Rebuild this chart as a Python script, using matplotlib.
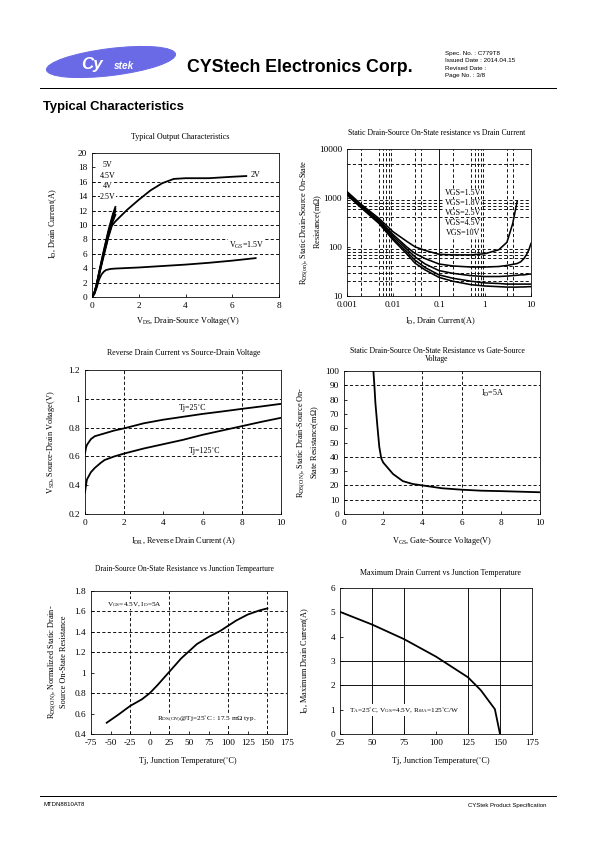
import matplotlib
matplotlib.use("Agg")
import matplotlib.pyplot as plt
from matplotlib.patches import Ellipse
from matplotlib.ticker import FuncFormatter

plt.rcParams['font.family'] = ['Liberation Serif', 'DejaVu Serif']
plt.rcParams['mathtext.fontset'] = 'custom'
plt.rcParams['mathtext.rm'] = 'Liberation Serif'
plt.rcParams['mathtext.it'] = 'Liberation Serif:italic'
plt.rcParams['mathtext.bf'] = 'Liberation Serif:bold'
plt.rcParams['axes.unicode_minus'] = False

W, H = 595, 842

# --- Typical output characteristics (VDS [V] -> ID [A])
vds_steep = [0, 0.1, 0.2, 0.3, 0.5, 0.7, 0.9, 1.0]
id_5v = [0, 0.6, 1.8, 3.4, 6.4, 9.2, 11.6, 12.5]
id_45v = [0, 0.6, 1.8, 3.3, 6.2, 9.0, 11.3, 12.2]
id_4v = [0, 0.6, 1.7, 3.2, 6.1, 8.8, 11.0, 11.9]
id_25v = [0, 0.5, 1.6, 3.1, 5.9, 8.5, 10.6, 11.4]
vds_2v = [0, 0.1, 0.2, 0.3, 0.5, 0.7, 0.85, 1.0, 1.5, 2.0, 2.5, 3.0, 3.5, 4.0, 5.0, 6.0, 6.6]
id_2v = [0, 0.5, 1.5, 3.0, 5.7, 8.3, 9.9, 10.5, 12.1, 13.5, 14.8, 15.8, 16.4, 16.5, 16.5, 16.7, 16.8]
vds_15v = [0, 0.1, 0.2, 0.3, 0.4, 0.5, 0.6, 0.8, 1.0, 2, 3, 4, 5, 6, 7]
id_15v = [0, 0.4, 1.3, 2.4, 3.1, 3.5, 3.75, 3.9, 3.95, 4.1, 4.3, 4.5, 4.75, 5.05, 5.4]

# --- RDS(on) [mOhm] vs ID [A]
id_a = [0.001, 0.002, 0.005, 0.01, 0.02, 0.03, 0.05, 0.1, 0.2, 0.5, 1, 2, 3, 4, 4.5, 5]
rds_15 = [1350, 750, 380, 205, 130, 101, 85, 71, 69, 69, 73, 88, 125, 300, 520, 850]
id_b = [0.001, 0.002, 0.005, 0.01, 0.02, 0.03, 0.05, 0.1, 0.2, 0.5, 1, 2, 3, 5, 6, 7, 8, 9, 10]
rds_18 = [1300, 720, 350, 180, 100, 74, 58, 45, 41, 39, 39, 40, 42, 46, 50, 58, 70, 88, 118]
rds_25 = [1250, 690, 330, 165, 90, 63, 45, 33, 29, 26, 25, 25, 25.5, 26.5, 27, 27, 27.5, 28, 28]
rds_45 = [1200, 660, 310, 150, 80, 54, 38, 27, 23, 20, 18.5, 18, 17.5, 17.5, 17.5, 17.5, 17.5, 17.5, 17.5]
rds_10 = [1150, 640, 300, 140, 72, 47, 34, 24, 20, 17, 16, 15.5, 15.2, 15.2, 15.3, 15.3, 15.4, 15.5, 15.5]
vgs_labels = ['VGS=1.5V', 'VGS=1.8V', 'VGS=2.5V', 'VGS=4.5V', 'VGS=10V']

# --- VSD [V] vs IDR [A]
idr_25 = [0, 0.05, 0.1, 0.2, 0.3, 0.5, 1, 1.5, 2, 3, 4, 5, 6, 7, 8, 9, 10]
vsd_25 = [0.62, 0.66, 0.68, 0.70, 0.72, 0.74, 0.76, 0.78, 0.795, 0.83, 0.855, 0.875, 0.895, 0.912, 0.93, 0.947, 0.965]
idr_125 = [0, 0.05, 0.1, 0.3, 0.5, 0.8, 1, 1.5, 2, 3, 4, 5, 6, 7, 8, 9, 10]
vsd_125 = [0.35, 0.40, 0.44, 0.49, 0.52, 0.555, 0.575, 0.60, 0.62, 0.655, 0.685, 0.715, 0.75, 0.78, 0.81, 0.84, 0.868]

# --- RDS(on) [mOhm] vs VGS [V]
vgs = [1.5, 1.55, 1.6, 1.7, 1.8, 1.9, 2.0, 2.5, 3.0, 3.5, 4, 5, 6, 7, 8, 9, 10]
rds_vgs = [100, 90, 78, 62, 47, 39, 36, 28, 23, 21, 20, 18, 17, 16.3, 16, 15.6, 15.2]

# --- normalized RDS(on) vs Tj
tj_n = [-55, -40, -25, -10, 0, 10, 25, 40, 50, 60, 75, 90, 100, 110, 125, 140, 150]
rds_n = [0.51, 0.59, 0.675, 0.74, 0.80, 0.88, 1.01, 1.14, 1.21, 1.28, 1.35, 1.41, 1.46, 1.51, 1.57, 1.61, 1.63]

# --- max drain current vs Tj
tj_i = [25, 50, 75, 100, 125, 135, 146, 150]
id_max = [5.02, 4.5, 3.9, 3.18, 2.33, 1.8, 1.02, 0]

fig = plt.figure(figsize=(W / 72, H / 72), dpi=72)
page = fig.add_axes([0, 0, 1, 1])
page.set_xlim(0, W)
page.set_ylim(H, 0)
page.axis('off')

SANS = 'Liberation Sans'
DASH = (0, (3.5, 2.5))
TITLE = 8
LABEL = 8.3
NOTE = 8


def panel(l, t, r, b):
    ax = fig.add_axes([l / W, 1 - b / H, (r - l) / W, (b - t) / H])
    for s in ax.spines.values():
        s.set_linewidth(0.8)
    ax.tick_params(direction='in', length=3, width=0.8, labelsize=9.3, pad=5)
    return ax


def grid(ax, xs=(), ys=(), ls=DASH):
    for x in xs:
        ax.axvline(x, color='k', lw=0.9, ls=ls, zorder=1)
    for y in ys:
        ax.axhline(y, color='k', lw=0.9, ls=ls, zorder=1)


def ptext(x, y, s, **kw):
    kw.setdefault('ha', 'center')
    kw.setdefault('va', 'center')
    kw.setdefault('fontsize', LABEL)
    page.text(x, y, s, **kw)


WHITE = dict(fc='white', ec='none', pad=0.5)

# header
page.add_patch(Ellipse((111, 62), 130, 27, angle=-7, color='#6a6ae6'))
page.text(92, 64, 'Cy', color='white', fontsize=17, fontweight='bold', style='italic',
          family=SANS, ha='center', va='center')
page.text(124, 66, 'stek', color='white', fontsize=10, fontweight='bold', style='italic',
          family=SANS, ha='center', va='center')
page.text(187, 67, 'CYStech Electronics Corp.', fontsize=17.8, fontweight='bold',
          family=SANS, va='center')
for i, s in enumerate(['Spec. No. : C779T8', 'Issued Date : 2014.04.15',
                       'Revised Date :', 'Page No. : 3/8']):
    page.text(445, 53 + i * 7.5, s, fontsize=6.3, family=SANS, va='center')
page.plot([40, 556], [88, 88], color='k', lw=1)
page.text(43, 107, 'Typical Characteristics', fontsize=13, fontweight='bold',
          family=SANS, va='center')
page.plot([40, 556], [796, 796], color='k', lw=1)
page.text(43, 805, 'MTDN8810AT8', fontsize=6, family=SANS, va='center')
page.text(547, 805, 'CYStek Product Specification', fontsize=6, family=SANS,
          va='center', ha='right')

# 1. typical output characteristics
ax = panel(92, 153, 279, 297)
ax.set_xlim(0, 8)
ax.set_ylim(0, 20)
ax.set_xticks(range(0, 9, 2))
ax.set_yticks(range(0, 21, 2))
grid(ax, ys=[2, 6, 8, 10, 12, 14, 16])
for y in (id_5v, id_45v, id_4v, id_25v):
    ax.plot(vds_steep, y, color='k', lw=1.8, zorder=3)
ax.plot(vds_2v, id_2v, color='k', lw=1.8, zorder=3)
ax.plot(vds_15v, id_15v, color='k', lw=1.8, zorder=3)
for yy, s in zip([18.3, 16.8, 15.4, 13.9], ['5V', '4.5V', '4V', '2.5V']):
    ax.text(0.68, yy, s, fontsize=NOTE, ha='center', va='center', zorder=4, bbox=WHITE)
ax.text(6.8, 17.0, '2V', fontsize=NOTE, va='center', zorder=4, bbox=WHITE)
ax.text(6.6, 7.2, r'V$_{\rm GS}$=1.5V', fontsize=NOTE, ha='center', va='center',
        zorder=4, bbox=WHITE)
ptext(180, 137, 'Typical Output Characteristics', fontsize=TITLE)
ptext(53, 224, r'I$_{\rm D}$, Drain Current(A)', rotation=90)
ptext(188, 321, r'V$_{\rm DS}$, Drain-Source Voltage(V)')

# 2. RDS(on) vs drain current
ax = panel(347, 149, 531, 296)
ax.set_xscale('log')
ax.set_yscale('log')
ax.set_xlim(0.001, 10)
ax.set_ylim(10, 10000)
ax.minorticks_off()
ax.set_xticks([0.001, 0.01, 0.1, 1, 10])
ax.set_yticks([10, 100, 1000, 10000])
ax.xaxis.set_major_formatter(FuncFormatter(lambda v, p: '%g' % v))
ax.yaxis.set_major_formatter(FuncFormatter(lambda v, p: '%g' % v))
grid(ax, xs=[0.002, 0.005, 0.006, 0.007, 0.008, 0.009, 0.03, 0.04,
             0.2, 0.5, 0.6, 0.7, 0.8, 0.9, 3, 4],
     ys=[5000, 400, 600, 700, 800, 900, 20, 30, 40, 60, 70, 80, 90])
grid(ax, xs=[0.1], ls='-')
ax.plot(id_a, rds_15, color='k', lw=1.6, zorder=3)
for r in (rds_18, rds_25, rds_45, rds_10):
    ax.plot(id_b, r, color='k', lw=1.6, zorder=3)
for i, s in enumerate(vgs_labels):
    ax.text(0.33, 10 ** (4 - (193 + 10 * i - 149) / 49.0), s, fontsize=NOTE,
            ha='center', va='center', zorder=4, bbox=dict(fc='white', ec='none', pad=0.3))
ptext(437, 133, 'Static Drain-Source On-State resistance vs Drain Current', fontsize=7.7)
ptext(311, 222, 'R$_{\\rm DS(on)}$, Static Drain-Source On-State\nResistance(m$\\Omega$)',
      rotation=90, linespacing=1.2)
ptext(440, 321, r'I$_{\rm D}$, Drain Current(A)')

# 3. reverse drain current vs source-drain voltage
ax = panel(85, 370, 281, 514)
ax.set_xlim(0, 10)
ax.set_ylim(0.2, 1.2)
ax.set_xticks(range(0, 11, 2))
ax.set_yticks([0.2, 0.4, 0.6, 0.8, 1.0, 1.2])
ax.yaxis.set_major_formatter(FuncFormatter(lambda v, p: '%g' % round(v, 1)))
grid(ax, xs=[2, 8], ys=[0.6, 0.8, 1.0])
ax.plot(idr_25, vsd_25, color='k', lw=1.8, zorder=3)
ax.plot(idr_125, vsd_125, color='k', lw=1.8, zorder=3)
ax.text(5.5, 0.935, 'Tj=25˚C', fontsize=NOTE, ha='center', va='center', zorder=4)
ax.text(6.1, 0.64, 'Tj=125˚C', fontsize=NOTE, ha='center', va='center', zorder=4,
        bbox=WHITE)
ptext(184, 353, 'Reverse Drain Current vs Source-Drain Voltage', fontsize=TITLE)
ptext(51, 442, r'V$_{\rm SD}$, Source-Drain Voltage(V)', rotation=90)
ptext(183, 541, r'I$_{\rm DR}$, Reverse Drain Current (A)')

# 4. RDS(on) vs gate-source voltage
ax = panel(344, 371, 540, 514)
ax.set_xlim(0, 10)
ax.set_ylim(0, 100)
ax.set_xticks(range(0, 11, 2))
ax.set_yticks(range(0, 101, 10))
grid(ax, xs=[4, 6], ys=[10, 20, 40, 90])
ax.plot(vgs, rds_vgs, color='k', lw=1.8, zorder=3)
ax.text(7.6, 84, r'I$_{\rm D}$=5A', fontsize=NOTE, ha='center', va='center', zorder=4,
        bbox=WHITE)
ptext(437, 355, 'Static Drain-Source On-State Resistance vs Gate-Source\nVoltage',
      linespacing=1.15, fontsize=7.7)
ptext(308, 442, 'R$_{\\rm DS(ON)}$, Static Drain-Source On-\nState Resistance(m$\\Omega$)',
      rotation=90, linespacing=1.2)
ptext(442, 541, r'V$_{\rm GS}$, Gate-Source Voltage(V)')

# 5. normalized RDS(on) vs junction temperature
ax = panel(91, 591, 287, 734)
ax.set_xlim(-75, 175)
ax.set_ylim(0.4, 1.8)
ax.set_xticks(range(-75, 176, 25))
ax.set_yticks([0.4, 0.6, 0.8, 1.0, 1.2, 1.4, 1.6, 1.8])
ax.yaxis.set_major_formatter(FuncFormatter(lambda v, p: '%g' % round(v, 1)))
grid(ax, xs=[-25, 25, 100, 150], ys=[0.8, 1.2, 1.4, 1.6])
ax.plot(tj_n, rds_n, color='k', lw=1.8, zorder=3)
ax.text(-20, 1.67, r'V$_{\rm GS}$=4.5V, I$_{\rm D}$=5A', fontsize=7.3, ha='center',
        va='center', zorder=4, bbox=WHITE)
ax.text(73, 0.547, 'R$_{\\rm DS(ON)}$@Tj=25˚C : 17.5 m$\\Omega$ typ.', fontsize=7.3,
        ha='center', va='center', zorder=4, bbox=WHITE)
ptext(184, 569, 'Drain-Source On-State Resistance vs Junction Tempearture', fontsize=7.5)
ptext(57, 662, 'R$_{\\rm DS(ON)}$, Normalized Static Drain-\nSource On-State Resistance',
      rotation=90, linespacing=1.2)
ptext(188, 761, 'Tj, Junction Temperature(˚C)')

# 6. maximum drain current vs junction temperature
ax = panel(340, 588, 532, 734)
ax.set_xlim(25, 175)
ax.set_ylim(0, 6)
ax.set_xticks(range(25, 176, 25))
ax.set_yticks(range(0, 7))
grid(ax, xs=[50, 75, 125, 150], ys=[2, 3], ls='-')
ax.plot(tj_i, id_max, color='k', lw=1.8, zorder=3)
ax.text(32, 1.0, r'T$_{\rm A}$=25˚C, V$_{\rm GS}$=4.5V, R$_{\rm θJA}$=125˚C/W',
        fontsize=7.3, va='center', zorder=4, bbox=dict(fc='white', ec='none', pad=1))
ptext(441, 573, 'Maximum Drain Current vs Junction Temperature', fontsize=TITLE)
ptext(305, 661, r'I$_{\rm D}$, Maximum Drain Current(A)', rotation=90)
ptext(441, 761, 'Tj, Junction Temperature(˚C)')

fig.savefig('out.png', dpi=72)
